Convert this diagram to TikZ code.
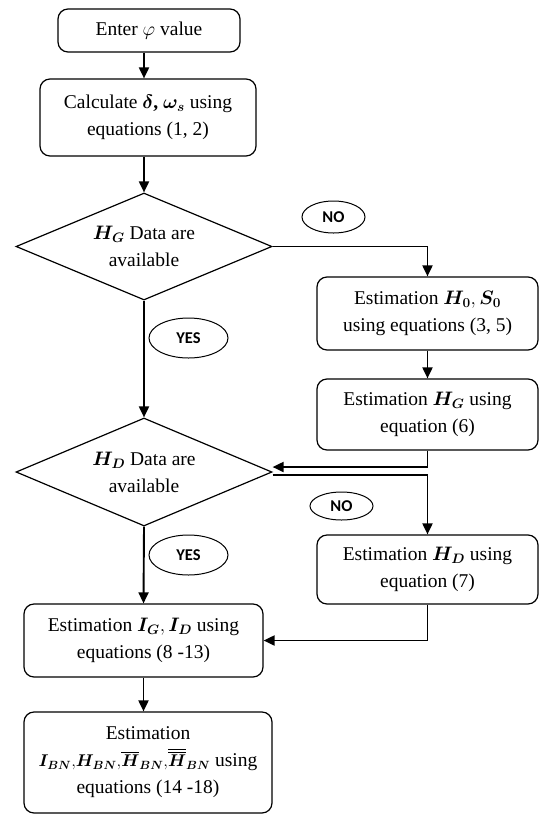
\RequirePackage{fix-cm}
\documentclass[tikz,border=0pt]{standalone}
\usepackage{amsmath}
\usepackage{bm}
\usepackage{fontspec}
\setmainfont{Liberation Serif}
\newfontfamily\answerfont{Carlito}
\usetikzlibrary{shapes.geometric,arrows.meta}

\begin{document}
\begin{tikzpicture}[x=1pt,y=-1pt,
  box/.style={draw,rounded corners=10pt,line width=1.2pt,align=center,inner sep=0pt,
    font=\fontsize{19.5}{27}\selectfont},
  decision/.style={draw,diamond,shape aspect=2.4,line width=1.2pt,align=center,inner sep=0pt,
    minimum width=256pt,minimum height=107pt,font=\fontsize{19.5}{27}\selectfont},
  answer/.style={draw,ellipse,line width=1pt,inner sep=0pt,
    font=\answerfont\bfseries\fontsize{16.5}{16.5}\selectfont},
  link/.style={line width=1.9pt,-{Triangle[length=11pt,width=10pt]}}]
  \useasboundingbox (0,0) rectangle (540,815);

  % main column
  \node[box,minimum width=182pt,minimum height=43pt] (enter) at (149,30.5) {Enter $\varphi$ value};
  \node[box,minimum width=216pt,minimum height=77pt] (calc) at (148,117.5)
    {Calculate $\bm{\delta}$\textbf{,} $\bm{\omega_s}$ using\\equations (1, 2)};
  \node[decision] (hg) at (144,246.5) {$\bm{H_G}$ Data are\\available};
  \node[decision,minimum height=108pt] (hd) at (144,472) {$\bm{H_D}$ Data are\\available};
  \node[box,minimum width=239pt,minimum height=73pt] (estid) at (143.5,640.5)
    {Estimation $\bm{I_G},\bm{I_D}$ using\\equations (8 -13)};
  \node[box,minimum width=248pt,minimum height=101pt] (estbn) at (148,762.5)
    {Estimation\\{\fontsize{17}{27}\selectfont$\bm{I_{BN}},\!\bm{H_{BN}},\!\overline{\bm{H}}_{\bm{BN}},\!\overline{\overline{\bm{H}}}_{\bm{BN}}$} using\\equations (14 -18)};

  % right column
  \node[box,minimum width=221pt,minimum height=73pt] (esth0) at (427.5,313.5)
    {Estimation $\bm{H_0}, \bm{S_0}$\\using equations (3, 5)};
  \node[box,minimum width=221pt,minimum height=71pt] (esthg) at (427.5,414.5)
    {Estimation $\bm{H_G}$ using\\equation (6)};
  \node[box,minimum width=221pt,minimum height=69pt] (esthd) at (427.5,569.5)
    {Estimation $\bm{H_D}$ using\\equation (7)};

  % answers
  \node[answer,minimum width=63pt,minimum height=32pt] (no1) at (333.5,217) {NO};
  \node[answer,minimum width=63pt,minimum height=28pt] (no2) at (341.5,506) {NO};
  \node[answer,minimum width=79pt,minimum height=40pt] (yes1) at (188.5,338) {YES};
  \node[answer,minimum width=79pt,minimum height=40pt] (yes2) at (188.5,555) {YES};

  \draw[link] (enter.south -| hg.north) -- (calc.north -| hg.north);
  \draw[link] (calc.south -| hg.north) -- (hg.north);
  \draw[link] (hg.east) -| (esth0.north);
  \draw[link] (esth0.south) -- (esthg.north);
  \draw[link] (esthg.south) |- ([yshift=5pt]hd.east);
  \draw[link] (hg.south) -- (hd.north);
  \draw[link] ([yshift=-3pt]hd.east) -| (esthd.north);
  \draw[link] (hd.south) -- (estid.north);
  \draw[link] (esthd.south) |- (estid.east);
  \draw[link] (estid.south) -- (estid.south |- estbn.north);
\end{tikzpicture}
\end{document}
